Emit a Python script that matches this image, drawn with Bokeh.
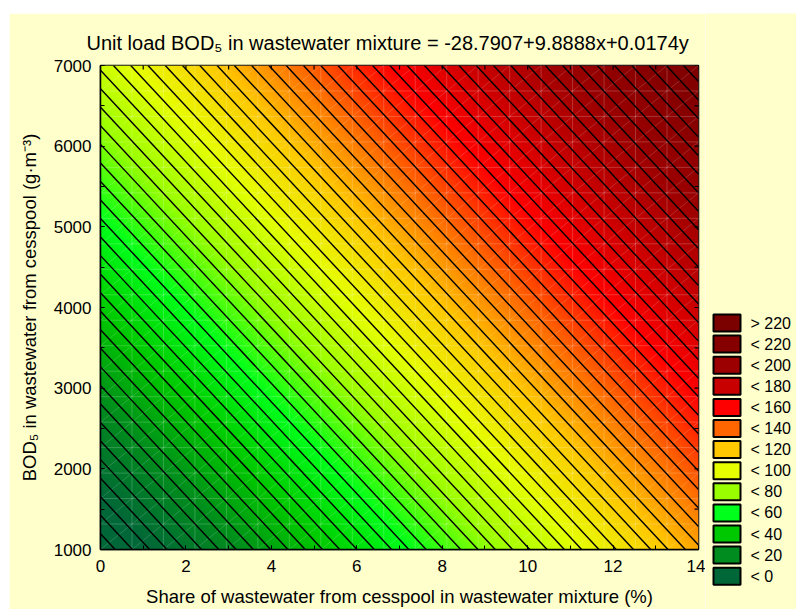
import numpy as np
from bokeh.plotting import figure
from bokeh.models import Range1d, SingleIntervalTicker
from bokeh.core.properties import value
from bokeh.embed import file_html
from bokeh.resources import INLINE

# ---- data ----
coef_const = -28.7907
coef_x = 9.8888
coef_y = 0.0174
x_lo, x_hi = 0.0, 14.0
y_lo, y_hi = 1000.0, 7000.0
x_minor_ticks = np.arange(0, 15, 1)
y_minor_ticks = np.arange(1000, 7001, 500)
legend_labels = ["> 220", "< 220", "< 200", "< 180", "< 160", "< 140", "< 120",
                 "< 100", "< 80", "< 60", "< 40", "< 20", "< 0"]
legend_colors = ["#7b0000", "#860000", "#9c0000", "#c80000", "#ff0000", "#ff6600",
                 "#ffc800", "#e6ff00", "#99ff00", "#00ff1a", "#00c800", "#008c1e", "#006838"]
color_anchor = [240, 220, 200, 180, 160, 140, 120, 100, 80, 60, 40, 20, 0]
line_step = 4
grid_n = 20

title_text = "Unit load BOD\u2085 in wastewater mixture = -28.7907+9.8888x+0.0174y"
x_label = "Share of wastewater from cesspool in wastewater mixture (%)"
y_label = "BOD\u2085 in wastewater from cesspool (g\u00b7m\u207b\u00b3)"

FONT = "Liberation Sans"
CREAM = "#FFFFCC"

def zfun(x, y):
    return coef_const + coef_x * x + coef_y * y

# ---- main figure ----
p = figure(width=696, height=596, x_range=Range1d(x_lo, x_hi), y_range=Range1d(y_lo, y_hi),
           output_backend="svg", toolbar_location=None,
           min_border_left=91, min_border_right=7, min_border_top=52, min_border_bottom=60,
           border_fill_color=CREAM, background_fill_color=CREAM,
           styles={"margin-left": "9px", "margin-top": "13px"})
p.grid.visible = False
p.outline_line_color = "black"
p.outline_line_width = 1.5

# smooth colour field
nx, ny = 600, 484
gx = np.linspace(x_lo, x_hi, nx)
gy = np.linspace(y_lo, y_hi, ny)
XX, YY = np.meshgrid(gx, gy)
Z = zfun(XX, YY)
anc = np.array(color_anchor[::-1], dtype=float)
cols = legend_colors[::-1]
rgb = np.array([[int(c[1:3], 16), int(c[3:5], 16), int(c[5:7], 16)] for c in cols], dtype=float)
img = np.empty((ny, nx), dtype=np.uint32)
view = img.view(dtype=np.uint8).reshape((ny, nx, 4))
for k in range(3):
    view[:, :, k] = np.interp(Z, anc, rgb[:, k]).astype(np.uint8)
view[:, :, 3] = 255
p.image_rgba(image=[img], x=x_lo, y=y_lo, dw=x_hi - x_lo, dh=y_hi - y_lo)

# faint mesh of the fitted grid
mx = np.linspace(x_lo, x_hi, grid_n)
my = np.linspace(y_lo, y_hi, grid_n)
mxs, mys = [], []
for v in mx:
    mxs.append([v, v]); mys.append([y_lo, y_hi])
for v in my:
    mxs.append([x_lo, x_hi]); mys.append([v, v])
p.multi_line(mxs, mys, line_color="white", line_alpha=0.2, line_width=1)
dxs, dys = [], []
for i in range(grid_n - 1):
    for j in range(grid_n - 1):
        dxs.append([mx[i], mx[i + 1]]); dys.append([my[j], my[j + 1]])
p.multi_line(dxs, dys, line_color="white", line_alpha=0.16, line_width=1)

# contour lines
zmin = zfun(x_lo, y_lo)
zmax = zfun(x_hi, y_hi)
levels = np.arange(np.ceil(zmin / line_step) * line_step, zmax, line_step)
cxs, cys = [], []
for L in levels:
    xa = (L - coef_const - coef_y * y_lo) / coef_x
    xb = (L - coef_const - coef_y * y_hi) / coef_x
    if xb > x_hi or xa < x_lo:
        continue
    if xa > x_hi:
        p0 = (x_hi, (L - coef_const - coef_x * x_hi) / coef_y)
    else:
        p0 = (xa, y_lo)
    if xb < x_lo:
        p1 = (x_lo, (L - coef_const - coef_x * x_lo) / coef_y)
    else:
        p1 = (xb, y_hi)
    cxs.append([p0[0], p1[0]]); cys.append([p0[1], p1[1]])
p.multi_line(cxs, cys, line_color="black", line_width=1.4)

# inward ticks on the top and right edges (dash markers clipped by the frame)
p.scatter(x=x_minor_ticks, y=[y_hi] * len(x_minor_ticks), marker="dash", size=8,
          angle=np.pi / 2, line_color="black", line_width=1.2)
p.scatter(x=[x_hi] * len(y_minor_ticks), y=y_minor_ticks, marker="dash", size=8,
          line_color="black", line_width=1.2)

# axes
for ax in (p.xaxis[0], p.yaxis[0]):
    ax.axis_line_color = "black"
    ax.axis_line_width = 1.5
    ax.major_tick_in = 4
    ax.major_tick_out = 0
    ax.minor_tick_in = 4
    ax.minor_tick_out = 0
    ax.major_tick_line_color = "black"
    ax.minor_tick_line_color = "black"
    ax.major_label_text_font = FONT
    ax.major_label_text_color = "black"
    ax.major_label_text_font_size = "17px"
    ax.axis_label_text_font = FONT
    ax.axis_label_text_font_style = "normal"
    ax.axis_label_text_color = "black"
    ax.axis_label_text_font_size = "18.5px"

p.xaxis.ticker = SingleIntervalTicker(interval=2, num_minor_ticks=2)
p.yaxis.ticker = SingleIntervalTicker(interval=1000, num_minor_ticks=2)
p.xaxis.axis_label = x_label
p.yaxis.axis_label = y_label
p.xaxis.major_label_standoff = 10
p.yaxis.major_label_standoff = 9
p.xaxis.axis_label_standoff = 11
p.yaxis.axis_label_standoff = 11

# title
p.title.text = title_text
p.title.align = "left"
p.title.offset = -14
p.title.standoff = 24
p.title.text_font = FONT
p.title.text_font_size = "20px"
p.title.text_font_style = "normal"
p.title.text_color = "black"

# ---- legend (separate pixel-scaled figure placed to the right) ----
L_LEFT, L_TOP, LW, LH = 705, 13, 91, 596
box_left, box_w, box_h = 713, 27, 17
first_top, pitch = 314, 21.1
pl = figure(width=LW, height=LH, x_range=Range1d(L_LEFT, L_LEFT + LW),
            y_range=Range1d(L_TOP + LH, L_TOP),
            output_backend="svg", toolbar_location=None,
            x_axis_type=None, y_axis_type=None,
            min_border_left=0, min_border_right=0, min_border_top=0, min_border_bottom=0,
            border_fill_color=CREAM, background_fill_color=CREAM,
            styles={"position": "absolute", "left": f"{L_LEFT}px", "top": f"{L_TOP}px"})
pl.grid.visible = False
pl.outline_line_color = None
idx = np.arange(len(legend_labels))
tops = first_top + idx * pitch
pl.quad(left=box_left, right=box_left + box_w, top=tops, bottom=tops + box_h,
        fill_color=legend_colors, line_color="black", line_width=2)
pl.text(x=box_left + box_w + 10, y=tops + box_h / 2, text=legend_labels,
        text_font=value(FONT), text_font_size="16px", text_baseline="middle",
        text_align="left", text_color="black")

open("out.html", "w").write(file_html([p, pl], INLINE))
